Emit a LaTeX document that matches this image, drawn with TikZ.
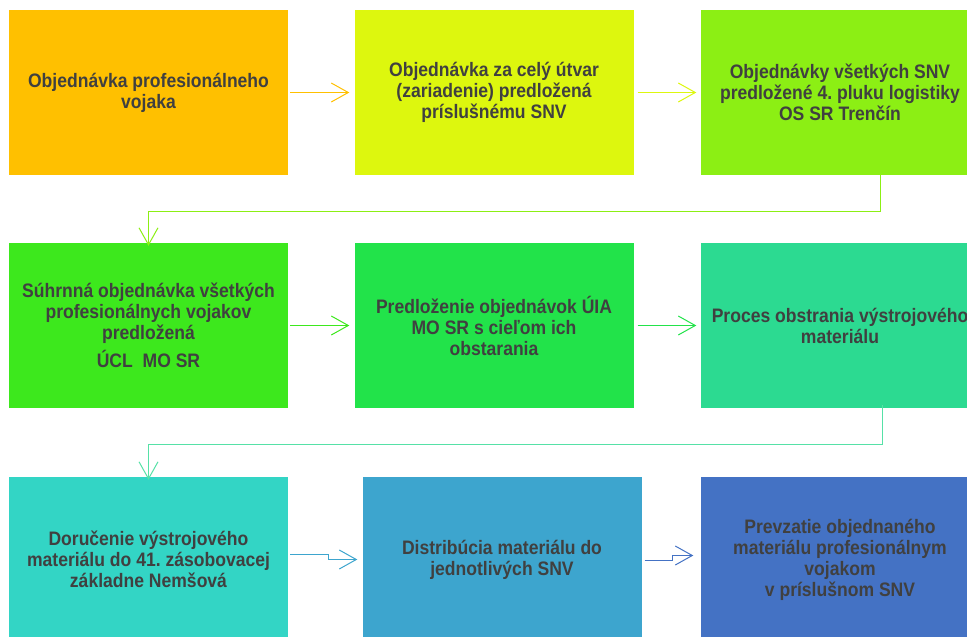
\documentclass[tikz,border=0pt]{standalone}
\usepackage{fontspec}
\setmainfont{Liberation Sans}
\newfontfamily\boxfont[FakeStretch=0.9]{Liberation Sans}
\usetikzlibrary{arrows.meta}
\frenchspacing
\definecolor{cA}{HTML}{FFC000}
\definecolor{cB}{HTML}{DDF70E}
\definecolor{cC}{HTML}{8CEF14}
\definecolor{cD}{HTML}{3DE81D}
\definecolor{cE}{HTML}{22E34A}
\definecolor{cF}{HTML}{2CDA91}
\definecolor{cG}{HTML}{33D5C5}
\definecolor{cH}{HTML}{3DA5CE}
\definecolor{cI}{HTML}{4472C4}
\definecolor{txt}{HTML}{404040}
\tikzset{
  box/.style={rectangle, minimum width=279pt, minimum height=165pt, inner sep=0pt,
    align=center, text=txt, font=\boxfont\fontsize{19.5}{21}\selectfont\bfseries\frenchspacing},
  conn/.style={line width=1pt, -{Straight Barb[length=17pt,width=19pt,line width=1pt]}},
}
\begin{document}
\begin{tikzpicture}[x=1pt,y=-1pt]
\useasboundingbox (0,0) rectangle (967,637);
\clip (0,0) rectangle (967,637);
\fill[white] (0,0) rectangle (967,637);
% row 1
\node[box, fill=cA] (b1) at (148.5,92.5) {Objednávka profesionálneho\\vojaka};
\node[box, fill=cB] (b2) at (494,92.5) {Objednávka za celý útvar\\(zariadenie) predložená\\príslušnému SNV};
\node[box, fill=cC] (b3) at (840,92.5) {Objednávky všetkých SNV\\predložené 4. pluku logistiky\\OS SR Trenčín};
% row 2
\node[box, fill=cD] (b4) at (148.5,325.5) {Súhrnná objednávka všetkých\\profesionálnych vojakov\\predložená\\[6pt]ÚCL\ \ MO SR};
\node[box, fill=cE] (b5) at (494,325.5) {Predloženie objednávok ÚIA\\MO SR s cieľom ich\\obstarania};
\node[box, fill=cF] (b6) at (840,325.5) {Proces obstrania výstrojového\\materiálu};
% row 3
\node[box, fill=cG] (b7) at (148.5,559.5) {Doručenie výstrojového\\materiálu do 41. zásobovacej\\základne Nemšová};
\node[box, fill=cH] (b8) at (502,559.5) {Distribúcia materiálu do\\jednotlivých SNV};
\node[box, fill=cI] (b9) at (840,559.5) {Prevzatie objednaného\\materiálu profesionálnym\\vojakom\\v príslušnom SNV};
% connectors row 1
\draw[conn, draw=cA] ([xshift=2pt]b1.east) -- ([xshift=-5pt]b2.west);
\draw[conn, draw=cB] ([xshift=4pt]b2.east) -- ([xshift=-4pt]b3.west);
\draw[conn, draw=cC] ([xshift=40pt,yshift=3pt]b3.south) |- (148.5,211) -- ([yshift=-3pt]b4.north);
% connectors row 2
\draw[conn, draw=cD] ([xshift=2pt]b4.east) -- ([xshift=-5pt]b5.west);
\draw[conn, draw=cE] ([xshift=4pt]b5.east) -- ([xshift=-4pt]b6.west);
\draw[conn, draw=cF!80!white] ([xshift=42pt,yshift=3pt]b6.south) |- (148.5,444) -- ([yshift=-3pt]b7.north);
% connectors row 3
\draw[conn, draw=cH] ([xshift=2pt,yshift=5pt]b7.east) -- ++(38pt,0) -- ++(0,-5pt) -- ([xshift=-5pt]b8.west);
\draw[conn, draw=cI] ([xshift=3pt,yshift=-1pt]b8.east) -- ++(28pt,0) -- ++(0,5pt) -- ([xshift=-7pt,yshift=4pt]b9.west);
\end{tikzpicture}
\end{document}
